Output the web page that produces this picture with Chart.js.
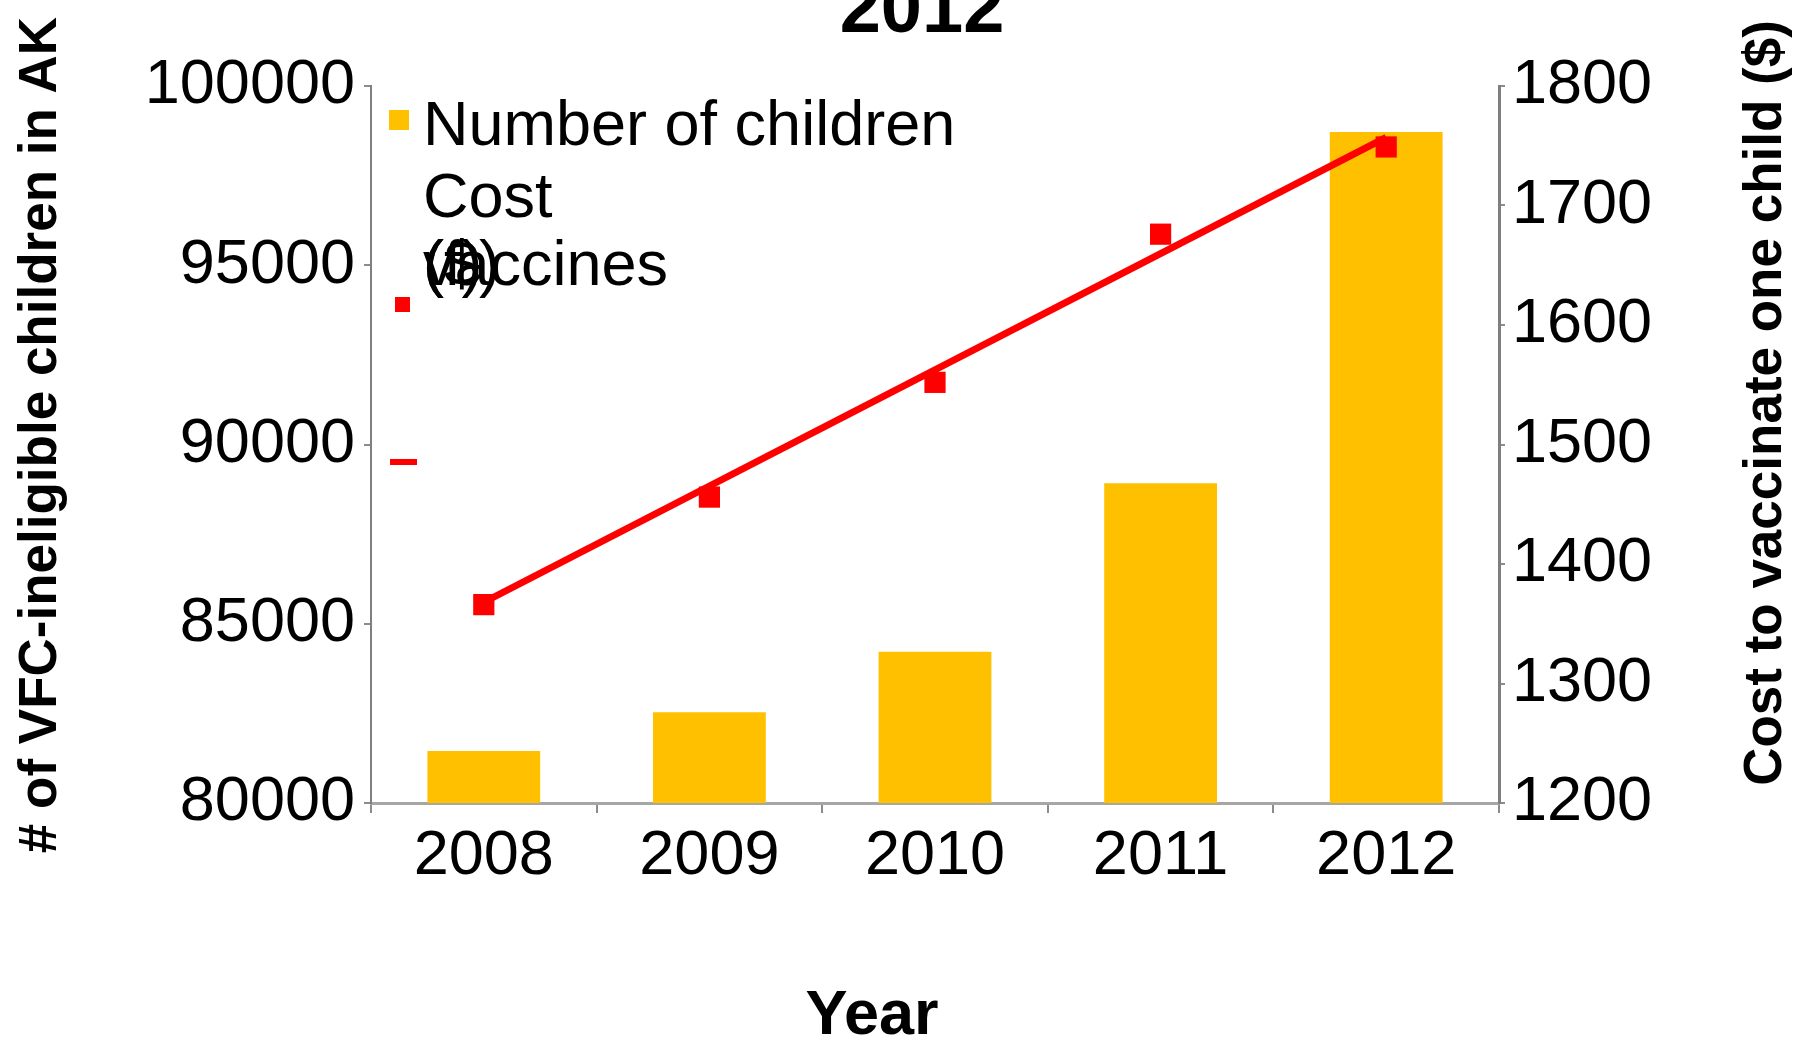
<!DOCTYPE html>
<html>
<head>
<meta charset="utf-8">
<script src="https://cdn.jsdelivr.net/npm/chart.js@4.4.0/dist/chart.umd.min.js"></script>
<style>
  html, body { margin: 0; padding: 0; background: #fff; }
  #wrap { width: 1793px; height: 1040px; overflow: hidden; }
</style>
</head>
<body>
<div id="wrap"><canvas id="chart" width="1793" height="1040"></canvas></div>
<script>
// ── data ──
const years       = ['2008', '2009', '2010', '2011', '2012'];
const children    = [81450, 82530, 84220, 88920, 98720];   // left axis
const costPerKid  = [1366, 1456, 1552, 1676, 1749];        // right axis ($)
const trendYears  = ['2008', '2012'];
const trendValues = [1368, 1757];                          // linear trend, read at its ends

const titleText  = '2012';
const xTitle     = 'Year';
const yTitle     = '# of VFC-ineligible children in AK';
const y1Title    = 'Cost to vaccinate one child ($)';
const legendRows = [['Number of children'], ['Cost'], ['vaccines', '($)', '(f)']];

const FONT   = '"Liberation Sans", Arial, sans-serif';
const GOLD   = '#FFC000';
const RED    = '#FF0000';
const AXIS   = '#8c8c8c';

Chart.defaults.font.family = FONT;
Chart.defaults.color = '#000';

// titles + the (overlapping) legend, drawn like the original export
const textPlugin = {
  id: 'texts',
  afterDraw(chart) {
    const { ctx, chartArea: a } = chart;
    const ds = chart.data.datasets;
    ctx.save();
    ctx.fillStyle = '#000';
    ctx.textBaseline = 'alphabetic';

    ctx.font = 'bold 74px ' + FONT;
    ctx.textAlign = 'center';
    ctx.fillText(titleText, 922, 32);

    ctx.font = 'bold 63px ' + FONT;
    ctx.fillText(xTitle, 872, 1034);

    ctx.font = 'bold 53px ' + FONT;
    [[yTitle, 56, 435], [y1Title, 1781, 403]].forEach(([t, x, y]) => {
      ctx.save();
      ctx.translate(x, y);
      ctx.rotate(-Math.PI / 2);
      ctx.fillText(t, 0, 0);
      ctx.restore();
    });

    // legend
    const lx = a.left + 52;
    const rowY = [145, 217, 285];
    ctx.font = '63px ' + FONT;
    ctx.textAlign = 'left';
    legendRows.forEach((row, i) => row.forEach(t => ctx.fillText(t, lx, rowY[i])));

    ctx.fillStyle = ds[0].backgroundColor;
    ctx.fillRect(a.left + 18, 110, 20, 20);
    ctx.fillStyle = ds[1].pointBackgroundColor;
    ctx.fillRect(a.left + 24, 297, 15, 15);
    ctx.fillStyle = ds[2].borderColor;
    ctx.fillRect(a.left + 19, 459, 27, 6);
    ctx.restore();
  }
};

const tickFont = { size: 63 };

new Chart(document.getElementById('chart'), {
  type: 'bar',
  data: {
    labels: years,
    datasets: [
      {
        type: 'bar',
        label: 'Number of children',
        data: children,
        backgroundColor: GOLD,
        yAxisID: 'y',
        barPercentage: 0.5,
        categoryPercentage: 1,
        order: 3,
      },
      {
        type: 'line',
        label: 'Cost ($)',
        data: costPerKid,
        yAxisID: 'y1',
        showLine: false,
        pointStyle: 'rect',
        pointRadius: 15,
        pointBackgroundColor: RED,
        pointBorderWidth: 0,
        order: 2,
      },
      {
        type: 'line',
        label: 'Linear (Cost ($))',
        data: trendYears.map((x, i) => ({ x, y: trendValues[i] })),
        yAxisID: 'y1',
        borderColor: RED,
        borderWidth: 7,
        pointRadius: 0,
        order: 1,
      },
    ],
  },
  options: {
    responsive: false,
    animation: false,
    layout: { padding: { top: 86 } },
    plugins: { legend: { display: false }, tooltip: { enabled: false } },
    scales: {
      x: {
        grid: { drawOnChartArea: false, tickLength: 10, color: AXIS, lineWidth: 2, offset: true },
        border: { color: '#a6a6a6', width: 3 },
        ticks: { font: tickFont, padding: 6, maxRotation: 0 },
        afterFit: s => { s.height = 237; },
      },
      y: {
        position: 'left',
        min: 80000,
        max: 100000,
        grid: { drawOnChartArea: false, tickLength: 7, color: AXIS, lineWidth: 2 },
        border: { color: '#7f7f7f', width: 2 },
        ticks: { stepSize: 5000, font: tickFont, padding: 9, callback: v => String(v) },
        afterFit: s => { s.width = 371; },
      },
      y1: {
        position: 'right',
        min: 1200,
        max: 1800,
        grid: { drawOnChartArea: false, tickLength: 6, color: AXIS, lineWidth: 2 },
        border: { color: '#7f7f7f', width: 3 },
        ticks: { stepSize: 100, font: tickFont, padding: 7, callback: v => String(v) },
        afterFit: s => { s.width = 294; },
      },
    },
  },
  plugins: [textPlugin],
});
</script>
</body>
</html>
